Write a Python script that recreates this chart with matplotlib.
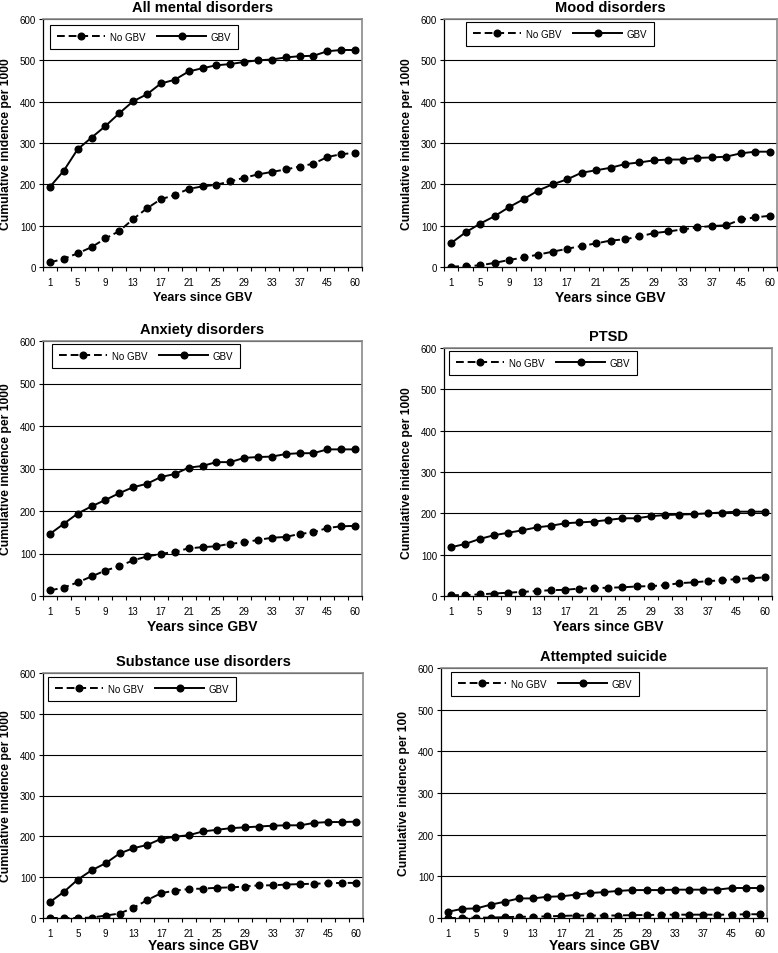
import numpy as np
import matplotlib
matplotlib.use("Agg")
import matplotlib.pyplot as plt

plt.rcParams['font.family'] = ['Liberation Sans', 'DejaVu Sans']

# category axis (Excel style, every second label shown)
years = ['1', '3', '5', '7', '9', '11', '13', '15', '17', '19', '21', '23',
         '25', '27', '29', '31', '33', '35', '37', '40', '45', '50', '60']

all_gbv = [194, 233, 285, 313, 341, 372, 401, 418, 444, 453, 473, 481,
           488, 491, 496, 500, 502, 507, 510, 511, 522, 525, 525]
all_nogbv = [11, 20, 33, 48, 69, 87, 116, 142, 164, 174, 189, 195,
             199, 207, 216, 224, 230, 236, 243, 250, 266, 273, 276]

mood_gbv = [58, 84, 105, 123, 145, 164, 185, 200, 212, 228, 234, 240,
            249, 253, 258, 260, 260, 264, 265, 267, 275, 279, 279]
mood_nogbv = [1, 2, 4, 10, 17, 23, 30, 37, 44, 51, 57, 64,
              67, 74, 82, 86, 91, 96, 99, 101, 115, 120, 124]

anx_gbv = [146, 170, 194, 211, 226, 242, 256, 264, 280, 287, 302, 306,
           315, 315, 325, 327, 328, 334, 336, 336, 345, 345, 345]
anx_nogbv = [13, 20, 32, 46, 60, 70, 84, 93, 99, 104, 112, 115,
             117, 123, 126, 132, 137, 139, 146, 150, 160, 164, 165]

ptsd_gbv = [118, 126, 138, 147, 153, 159, 166, 170, 176, 178, 180, 184,
            188, 188, 193, 196, 197, 198, 200, 202, 204, 204, 204]
ptsd_nogbv = [2, 2, 4, 6, 8, 10, 12, 14, 15, 18, 19, 20,
              21, 23, 24, 26, 31, 33, 36, 38, 41, 43, 45]

sub_gbv = [39, 64, 94, 117, 134, 158, 171, 179, 194, 199, 203, 212,
           216, 220, 222, 224, 226, 227, 227, 233, 235, 235, 236]
sub_nogbv = [0, 0, 0, 1, 6, 11, 25, 44, 61, 67, 71, 72,
             74, 75, 77, 80, 80, 82, 83, 84, 85, 86, 86]

sui_gbv = [15, 22, 23, 32, 39, 47, 47, 51, 52, 56, 60, 62,
           65, 67, 67, 67, 68, 68, 68, 68, 72, 72, 72]
sui_nogbv = [0, 0, 1, 1, 2, 3, 3, 4, 5, 6, 6, 6,
             6, 7, 7, 8, 8, 8, 8, 8, 8, 9, 9]

# title, y label, series, axes box in pixels (l, r, t, b), legend offset (dx, dy)
panels = [
    ('All mental disorders', 'Cumulative inidence per 1000', all_nogbv, all_gbv,
     (43, 362, 20, 268), (7, 6)),
    ('Mood disorders', 'Cumulative inidence per 1000', mood_nogbv, mood_gbv,
     (444, 777, 20, 268), (22, 3)),
    ('Anxiety disorders', 'Cumulative inidence per 1000', anx_nogbv, anx_gbv,
     (43, 362, 342, 597), (9, 3)),
    ('PTSD', 'Cumulative inidence per 1000', ptsd_nogbv, ptsd_gbv,
     (444, 772, 349, 597), (5, 3)),
    ('Substance use disorders', 'Cumulative inidence per 1000', sub_nogbv, sub_gbv,
     (43, 363, 674, 919), (5, 4)),
    ('Attempted suicide', 'Cumulative inidence per 100', sui_nogbv, sui_gbv,
     (441, 767, 669, 919), (10, 4)),
]

W, H = 778, 954
fig = plt.figure(figsize=(W / 100, H / 100), dpi=100)

x = np.arange(len(years))

for i, (title, ylab, nogbv, gbv, (l, r, t, b), (dx, dy)) in enumerate(panels):
    ax = fig.add_axes([l / W, 1 - b / H, (r - l) / W, (b - t) / H])
    wpx, hpx = r - l, b - t
    lab_size = 9 if i == 0 else 10

    ax.plot(x, nogbv, color='black', lw=1.4, ls=(0, (4, 2)), marker='o',
            ms=4.8, label='No GBV')
    ax.plot(x, gbv, color='black', lw=1.4, marker='o', ms=4.8, label='GBV')

    ax.set_xlim(-0.5, len(years) - 0.5)
    ax.set_ylim(0, 600)
    ax.set_yticks(range(0, 601, 100))
    ax.yaxis.grid(True, color='black', lw=0.8)
    ax.set_axisbelow(True)

    # labels on every second category, tick marks between categories
    ax.set_xticks(x[::2])
    ax.set_xticklabels(years[::2])
    ax.set_xticks(np.arange(-0.5, len(years), 1), minor=True)
    ax.tick_params(axis='x', which='major', length=0, pad=7, labelsize=7)
    ax.tick_params(axis='x', which='minor', length=3, width=0.8)
    ax.tick_params(axis='y', length=3, width=0.8, labelsize=7, pad=2)

    for side in ['top', 'right']:
        ax.spines[side].set_color('#8a8a8a')
        ax.spines[side].set_linewidth(1.2)
    for side in ['left', 'bottom']:
        ax.spines[side].set_color('black')
        ax.spines[side].set_linewidth(0.9)

    ax.set_title(title, fontsize=10.5, fontweight='bold', pad=6)
    ax.set_ylabel(ylab, fontsize=8.7, fontweight='bold')
    ax.yaxis.set_label_coords(-37 / wpx, 0.5)
    ax.yaxis.label.set_va('center')
    ax.set_xlabel('Years since GBV', fontsize=lab_size, fontweight='bold')
    xl_off = 27 if i >= 4 else 30
    ax.xaxis.set_label_coords(0.5, -xl_off / hpx)
    ax.xaxis.label.set_va('center')

    leg = ax.legend(loc='upper left', bbox_to_anchor=(dx / wpx, 1 - dy / hpx), ncol=2,
                    fontsize=7, frameon=True, fancybox=False, framealpha=1,
                    edgecolor='black', handlelength=5.0, columnspacing=1.2,
                    handletextpad=0.5, borderaxespad=0, borderpad=0.7)
    leg.get_frame().set_linewidth(0.8)

fig.savefig('out.png', dpi=100)
